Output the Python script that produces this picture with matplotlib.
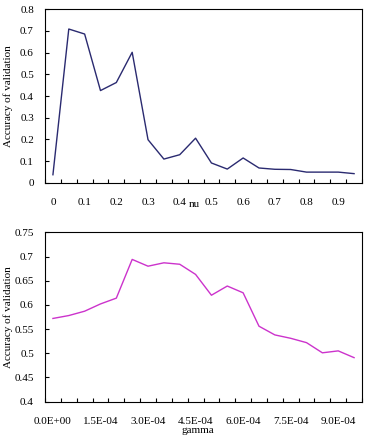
import numpy as np
import matplotlib
matplotlib.use("Agg")
import matplotlib.pyplot as plt

plt.rcParams['font.family'] = ['Liberation Serif', 'DejaVu Serif']

# top chart: accuracy vs nu
nu = [0, 0.05, 0.1, 0.15, 0.2, 0.25, 0.3, 0.35, 0.4, 0.45,
      0.5, 0.55, 0.6, 0.65, 0.7, 0.75, 0.8, 0.85, 0.9, 0.95]
acc_nu = [0.038, 0.708, 0.685, 0.425, 0.462, 0.601, 0.199, 0.110, 0.130, 0.206,
          0.092, 0.064, 0.115, 0.069, 0.063, 0.062, 0.050, 0.050, 0.050, 0.043]
nu_labels = ['0', '0.1', '0.2', '0.3', '0.4', '0.5', '0.6', '0.7', '0.8', '0.9']
nu_yticks = [0, 0.1, 0.2, 0.3, 0.4, 0.5, 0.6, 0.7, 0.8]
nu_ylabels = ['0', '0.1', '0.2', '0.3', '0.4', '0.5', '0.6', '0.7', '0.8']

# bottom chart: accuracy vs gamma
gamma = [0, 5e-5, 1e-4, 1.5e-4, 2e-4, 2.5e-4, 3e-4, 3.5e-4, 4e-4, 4.5e-4,
         5e-4, 5.5e-4, 6e-4, 6.5e-4, 7e-4, 7.5e-4, 8e-4, 8.5e-4, 9e-4, 9.5e-4]
acc_gamma = [0.572, 0.578, 0.587, 0.602, 0.614, 0.694, 0.680, 0.687, 0.684, 0.663,
             0.620, 0.639, 0.625, 0.556, 0.538, 0.531, 0.522, 0.501, 0.505, 0.491]
gamma_labels = ['0.0E+00', '1.5E-04', '3.0E-04', '4.5E-04', '6.0E-04', '7.5E-04', '9.0E-04']
gamma_yticks = [0.4, 0.45, 0.5, 0.55, 0.6, 0.65, 0.7, 0.75]
gamma_ylabels = ['0.4', '0.45', '0.5', '0.55', '0.6', '0.65', '0.7', '0.75']

fs = 8

def setup(ax, n, label_step, labels, yticks, ylabels, ylim):
    idx = np.arange(n)
    ax.set_xlim(-0.5, n - 0.5)
    ax.set_ylim(*ylim)
    # category axis: ticks between categories, labels on categories
    ax.set_xticks(np.arange(-0.5, n, 1))
    ax.set_xticklabels([])
    ax.set_xticks(idx[::label_step], minor=True)
    ax.set_xticklabels(labels, minor=True, fontsize=fs)
    ax.tick_params(axis='x', which='major', direction='in', length=3, width=0.8)
    ax.tick_params(axis='x', which='minor', length=0, pad=11)
    ax.set_yticks(yticks)
    ax.set_yticklabels(ylabels, fontsize=fs)
    ax.tick_params(axis='y', direction='in', length=3, width=0.8, pad=8)
    for s in ax.spines.values():
        s.set_linewidth(0.8)
    ax.set_ylabel('Accuracy of validation', fontsize=fs)
    ax.yaxis.set_label_coords(-0.101, 0.5)

fig = plt.figure(figsize=(3.68, 4.42), dpi=100)

ax1 = fig.add_axes([0.1223, 0.586, 0.8614, 0.3936])
ax1.plot(np.arange(len(nu)), acc_nu, color='#2a2a70', lw=1.0)
setup(ax1, len(nu), 2, nu_labels, nu_yticks, nu_ylabels, (0, 0.8))
ax1.text(0.47, -0.126, 'nu', transform=ax1.transAxes, ha='center', va='center', fontsize=fs)

ax2 = fig.add_axes([0.1223, 0.0912, 0.8614, 0.3832])
ax2.plot(np.arange(len(gamma)), acc_gamma, color='#cc33cc', lw=1.0)
setup(ax2, len(gamma), 3, gamma_labels, gamma_yticks, gamma_ylabels, (0.4, 0.75))
ax2.text(0.483, -0.171, 'gamma', transform=ax2.transAxes, ha='center', va='center', fontsize=fs)

fig.savefig('out.png', dpi=100)
